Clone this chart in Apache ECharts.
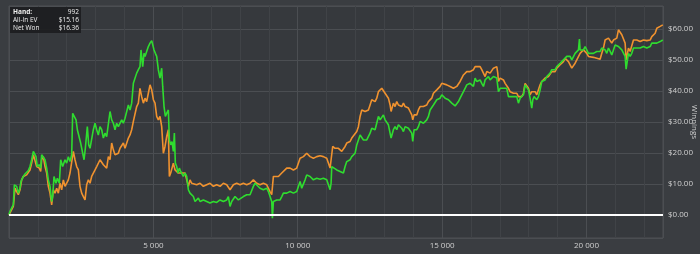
<!DOCTYPE html>
<html>
<head>
<meta charset="utf-8">
<script src="https://cdn.jsdelivr.net/npm/echarts@6/dist/echarts.min.js"></script>
<style>
html,body{margin:0;padding:0;background:#3a3d41;}
#chart{width:700px;height:254px;}
</style>
</head>
<body>
<div id="chart"></div>
<script>
// Tooltip snapshot shown in the reference
const tipLabels = ['Hand:', 'All-In EV', 'Net Won'];
const tipValues = ['992', '$15.16', '$16.36'];
const yAxisTitle = 'Winnings';

// X axis ticks (hands)
const xTicks = [5000, 10000, 15000, 20000];
// Y axis ticks (winnings, $)
const yTicks = [0, 10, 20, 30, 40, 50, 60];

// Net Won (green): [hand, $]
const netWon = [
[0,0],[34,1.1],[92,2.2],[150,3.2],[185,9.7],[265,9.2],[323,7.0],[381,8.6],[415,10.8],[496,12.4],[554,13.2],[612,12.9],[669,14.3],[727,15.6],[785,17.8],[843,20.5],[900,19.9],[935,18.8],[981,15.6],[1051,16.2],[1097,15.1],[1131,19.4],[1189,19.9],[1247,17.8],[1305,15.1],[1362,11.3],[1420,9.2],[1478,4.3],[1512,5.9],[1559,12.4],[1628,10.2],[1674,11.8],[1743,10.2],[1790,17.8],[1859,15.6],[1905,15.1],[1940,17.8],[1997,16.7],[2055,18.8],[2113,17.2],[2171,19.4],[2205,32.8],[2251,32.3],[2321,30.7],[2367,27.5],[2436,26.9],[2482,23.2],[2552,19.9],[2598,17.8],[2644,21.5],[2713,28.5],[2760,22.6],[2806,21.5],[2863,22.1],[2921,27.5],[2979,29.6],[3037,27.5],[3094,25.8],[3152,28.5],[3210,27.5],[3268,24.8],[3325,26.4],[3383,25.3],[3441,24.8],[3499,33.4],[3556,30.7],[3614,29.6],[3672,27.5],[3729,29.6],[3787,28.5],[3845,29.1],[3903,30.7],[3960,29.6],[4018,31.2],[4076,31.8],[4134,35.5],[4191,33.9],[4249,36.1],[4307,42.5],[4365,43.1],
[4422,45.8],[4480,46.9],[4537,47.9],[4572,53.3],[4630,47.9],[4676,52.2],[4711,51.2],[4768,52.8],[4826,54.4],[4884,55.5],[4942,56.3],[4976,56.0],[5022,53.3],[5069,52.2],[5115,51.2],[5172,46.9],[5230,44.2],[5288,47.4],[5323,41.5],[5369,35.0],[5415,31.8],[5461,32.8],[5519,33.9],[5554,24.2],[5600,22.6],[5646,23.7],[5692,20.5],[5727,26.4],[5761,16.7],[5808,15.6],[5854,13.5],[5900,15.1],[5946,14.0],[5992,13.5],[6039,12.4],[6096,13.5],[6154,12.4],[6212,8.1],[6269,7.0],[6327,7.5],[6385,5.9],[6443,4.3],[6500,4.8],[6558,5.4],[6616,4.3],[6731,4.8],[6847,4.3],[6962,3.8],[7078,4.3],[7193,4.0],[7309,4.8],[7424,4.3],[7540,4.8],[7597,5.9],[7655,2.7],[7713,4.3],[7771,4.8],[7828,5.9],[7886,6.5],[7944,4.8],[8002,5.4],[8117,5.9],[8232,6.5],[8348,6.5],[8406,5.9],[8463,9.2],[8521,10.2],[8579,9.7],[8694,8.6],
[8810,8.1],[8926,8.6],[8984,7.5],[9041,7.0],[9099,4.3],[9122,-1.1],[9157,4.3],[9215,4.3],[9272,4.8],[9388,4.8],[9446,5.9],[9503,7.0],[9619,7.0],[9734,7.5],[9850,7.0],[9965,7.5],[10023,8.1],[10081,10.8],[10138,8.6],[10196,9.2],[10254,11.3],[10311,12.9],[10427,12.4],[10542,11.3],[10658,11.8],[10774,11.5],[10889,11.8],[11004,11.3],[11062,11.3],[11120,8.1],[11155,10.2],[11178,15.6],[11235,15.1],[11351,14.5],[11466,14.0],[11582,13.5],[11640,15.6],[11697,17.2],[11755,16.7],[11813,17.8],[11871,18.8],[11928,19.4],[11986,19.9],[12044,22.6],[12101,22.1],[12159,25.8],[12217,25.3],[12275,24.2],[12332,23.7],[12390,24.2],[12448,24.2],[12505,26.4],[12563,28.0],[12621,28.5],[12679,27.5],[12736,28.0],[12794,31.8],[12852,30.7],[12910,31.2],[12967,32.3],[13025,30.7],[13083,30.2],[13140,29.1],[13198,26.4],[13233,24.8],[13256,25.3],
[13313,27.5],[13371,28.5],[13429,27.5],[13487,29.1],[13544,28.5],[13602,28.0],[13660,26.9],[13718,28.5],[13775,29.1],[13833,28.0],[13891,27.5],[13949,26.4],[13983,23.7],[14029,27.5],[14122,27.5],[14179,28.5],[14237,30.2],[14295,30.7],[14353,29.6],[14410,30.2],[14468,30.7],[14526,31.8],[14584,33.9],[14641,34.5],[14699,35.5],[14757,36.1],[14815,37.2],[14872,36.6],[14930,37.7],[14988,38.8],[15045,38.2],[15103,37.7],[15161,37.2],[15219,37.2],[15276,36.6],[15334,36.1],[15392,35.5],[15450,35.2],[15507,35.5],[15565,36.6],[15623,37.7],[15681,38.8],[15738,39.8],[15796,40.9],[15854,42.0],[15912,41.5],[15969,42.5],[16027,42.0],[16085,41.5],[16143,44.2],[16200,43.1],[16258,42.5],[16316,43.6],[16373,42.5],[16431,41.5],[16489,43.6],[16547,44.2],[16604,44.7],[16662,43.6],[16720,44.2],[16778,44.7],[16835,45.2],[16893,44.2],[16951,39.8],[17009,40.9],[17124,40.9],[17182,40.4],[17239,40.9],[17297,38.2],[17355,37.7],[17413,38.2],[17470,38.2],[17586,38.2],[17643,36.1],[17701,37.7],[17759,37.2],[17817,38.8],
[17874,42.0],[17932,41.5],[17990,40.4],[18047,37.7],[18105,34.5],[18140,37.2],[18186,38.2],[18221,38.8],[18278,37.2],[18336,38.2],[18394,40.4],[18452,43.1],[18509,42.5],[18567,43.6],[18625,44.7],[18682,45.2],[18740,45.8],[18798,46.9],[18856,47.4],[18913,46.9],[18971,47.9],[19029,47.4],[19087,49.0],[19144,49.5],[19202,50.1],[19260,50.6],[19318,51.2],[19375,50.6],[19433,51.2],[19491,50.1],[19549,49.5],[19606,52.2],[19664,52.8],[19722,53.3],[19756,56.8],[19779,53.3],[19837,53.9],[19895,53.3],[19953,54.4],[20010,54.4],[20068,52.2],[20126,52.8],[20241,52.2],[20357,52.8],[20472,52.8],[20530,53.9],[20588,54.4],[20645,53.3],[20703,52.2],[20761,53.9],[20819,52.8],[20876,51.7],[20934,53.3],[20992,54.9],[21050,55.5],[21107,54.4],[21165,54.9],[21223,53.3],[21281,52.8],[21338,51.2],[21373,47.1],[21419,50.1],[21454,52.2],[21511,51.2],[21569,52.2],[21627,53.9],[21685,54.4],[21742,53.9],[21800,54.4],[21858,53.9],[21973,54.4],[22089,53.9],[22204,54.4],[22262,55.5],[22320,55.3],[22435,55.5],[22551,56.0],[22643,56.5]
];

// All-In EV (orange): [hand, $]
const allInEV = [
[0,0],[150,2.7],[208,8.6],[265,7.5],[323,6.5],[381,8.1],[439,11.3],[496,12.4],[612,12.9],[727,14.5],[785,16.7],[843,19.4],[900,18.8],[958,15.6],[1051,15.1],[1097,14.0],[1131,17.8],[1189,18.8],[1247,15.6],[1305,13.5],[1362,9.2],[1420,7.0],[1478,3.2],[1536,8.1],[1593,7.0],[1651,8.6],[1709,7.0],[1767,10.2],[1824,8.1],[1882,11.3],[1940,9.2],[1997,10.2],[2055,11.3],[2113,13.5],[2171,14.0],[2228,20.5],[2286,17.8],[2344,15.6],[2402,14.5],[2459,9.2],[2517,7.0],[2575,5.9],[2633,4.8],[2690,9.7],[2748,11.3],[2806,10.2],[2863,12.4],[2921,11.8],[2979,14.5],[3037,15.6],[3094,15.1],[3152,17.8],[3210,17.8],[3268,16.2],[3325,16.7],[3383,15.1],[3441,18.8],[3499,17.8],[3556,23.2],[3614,21.0],[3672,19.4],[3729,19.9],[3787,19.9],[3845,21.5],[3903,22.1],[3960,23.2],[4018,21.5],[4076,22.1],[4134,24.8],[4191,25.8],[4249,27.5],[4307,30.2],[4365,30.7],
[4422,35.0],[4480,36.1],[4537,40.9],[4595,38.2],[4653,36.1],[4711,37.7],[4768,36.6],[4826,39.3],[4884,42.0],[4942,40.4],[5000,37.2],[5057,36.1],[5115,31.8],[5172,30.7],[5230,31.8],[5288,28.5],[5346,19.9],[5403,22.1],[5461,25.3],[5519,27.5],[5554,12.4],[5600,13.5],[5634,14.0],[5692,16.7],[5750,14.5],[5808,15.1],[5865,13.5],[5923,14.0],[5981,13.5],[6039,14.0],[6096,13.5],[6154,13.5],[6212,9.2],[6269,11.3],[6327,10.2],[6385,10.8],[6500,9.7],[6616,10.2],[6731,9.2],[6847,9.7],[6962,10.2],[7078,9.2],[7193,9.7],[7309,9.2],[7424,10.2],[7540,9.7],[7655,8.1],[7771,9.7],[7886,10.2],[8002,9.7],[8117,10.2],[8232,9.7],[8348,10.2],[8463,11.3],[8579,10.2],[8694,9.7],
[8810,10.2],[8926,9.7],[8984,9.2],[9041,7.5],[9099,6.5],[9157,12.4],[9215,12.9],[9330,12.4],[9446,13.5],[9503,14.0],[9619,15.1],[9734,15.1],[9850,14.5],[9965,15.1],[10023,15.6],[10081,18.3],[10138,17.8],[10196,18.8],[10254,19.4],[10311,19.9],[10427,18.8],[10542,18.3],[10658,18.8],[10774,19.1],[10889,18.8],[11004,18.3],[11062,17.8],[11120,15.1],[11155,17.8],[11212,22.1],[11293,21.5],[11409,21.5],[11466,21.0],[11524,20.5],[11582,19.9],[11640,22.1],[11697,23.2],[11813,23.7],[11871,24.8],[11928,25.3],[12044,26.9],[12101,28.5],[12159,31.8],[12217,33.9],[12275,34.5],[12332,33.4],[12390,32.8],[12448,33.9],[12505,35.5],[12563,37.2],[12621,37.2],[12679,36.6],[12736,37.7],[12794,39.8],[12852,39.8],[12910,40.9],[12967,40.4],[13025,39.3],[13083,38.8],[13140,37.7],[13198,35.5],[13233,33.4],
[13256,33.9],[13313,36.1],[13371,35.0],[13429,36.6],[13487,35.5],[13544,36.1],[13602,35.0],[13660,36.1],[13718,35.0],[13775,35.5],[13833,34.5],[13891,33.4],[13949,32.3],[13983,30.7],[14029,32.3],[14122,32.3],[14179,33.9],[14237,35.0],[14295,34.5],[14353,35.0],[14468,35.5],[14526,36.6],[14584,36.6],[14641,37.7],[14699,39.3],[14757,39.8],[14815,40.4],[14872,40.9],[14930,41.5],[14988,42.5],[15045,42.0],[15161,42.0],[15276,41.5],[15392,40.9],[15450,40.9],[15507,41.5],[15565,42.0],[15623,43.1],[15681,44.2],[15738,45.2],[15796,45.8],[15854,46.3],[15912,45.8],[15969,46.3],[16027,45.8],[16085,46.9],[16143,47.9],[16178,48.5],[16224,47.9],[16258,47.4],[16316,47.9],[16373,46.9],[16431,45.8],[16489,44.7],[16547,46.3],[16604,46.9],[16662,45.8],[16720,46.3],[16778,47.4],[16835,46.9],[16893,47.9],[16928,45.8],[16951,43.1],[17009,44.2],[17066,44.2],[17124,43.6],[17182,42.5],[17239,42.0],[17297,40.9],[17355,39.8],[17413,39.8],[17470,39.3],[17528,39.8],[17586,39.3],[17643,38.2],[17701,38.8],[17759,38.2],[17817,39.3],
[17874,42.5],[17932,42.0],[17990,40.9],[18047,38.8],[18105,39.8],[18163,39.3],[18221,39.8],[18278,38.8],[18336,40.4],[18394,42.0],[18452,43.1],[18509,43.1],[18567,44.2],[18625,43.6],[18682,44.7],[18740,45.2],[18798,46.3],[18856,46.9],[18913,46.3],[18971,47.4],[19029,47.9],[19087,48.5],[19144,49.0],[19202,49.5],[19260,50.6],[19318,50.1],[19375,49.5],[19433,48.5],[19491,47.4],[19549,46.9],[19606,49.0],[19664,50.1],[19722,50.6],[19779,52.2],[19837,52.8],[19895,53.3],[19953,52.8],[20010,52.2],[20068,51.2],[20126,50.6],[20241,50.9],[20357,50.6],[20472,50.3],[20530,52.2],[20588,53.9],[20645,56.5],[20703,56.0],[20761,57.1],[20819,56.5],[20876,55.5],[20934,56.5],[20992,56.0],[21050,57.1],[21107,59.8],[21165,59.2],[21223,58.2],[21281,57.6],[21338,55.5],[21373,50.1],[21419,52.2],[21454,53.9],[21511,52.8],[21569,53.3],[21627,56.5],[21685,57.1],[21742,56.5],[21800,56.8],[21858,56.0],[21973,56.5],[22089,56.3],[22204,56.5],[22262,57.6],[22320,58.2],[22378,58.7],[22435,60.3],[22493,60.3],[22551,60.9],[22643,61.4]
];

const FONT = '"Open Sans", "DejaVu Sans", sans-serif';
const chart = echarts.init(document.getElementById('chart'), null, {renderer: 'canvas'});

function fmtHands(v) {
  return String(v).replace(/\B(?=(\d{3})+(?!\d))/g, ' ');
}

const graphics = [{
  type: 'rect', left: 10, top: 7, z: 100,
  shape: {width: 71, height: 26},
  style: {fill: 'rgba(28,29,31,0.92)'}
}];
tipLabels.forEach((t, i) => {
  graphics.push({
    type: 'text', left: 13, top: 9 + i * 8, z: 101,
    style: {text: t, fill: '#f0f0f0', font: (i === 0 ? 'bold ' : '') + '6.5px ' + FONT}
  });
  graphics.push({
    type: 'text', right: 700 - 79, top: 9 + i * 8, z: 101,
    style: {text: tipValues[i], fill: '#f0f0f0', font: '6.5px ' + FONT, textAlign: 'right'}
  });
});
graphics.push({
  type: 'text', x: 694, y: 122, rotation: -Math.PI / 2, z: 101,
  style: {
    text: yAxisTitle, fill: '#d0d0d0', font: '8px ' + FONT,
    textAlign: 'center', textVerticalAlign: 'middle'
  }
});

chart.setOption({
  backgroundColor: '#3a3d41',
  animation: false,
  grid: {
    left: 9, right: 37, top: 6, bottom: 16,
    outerBoundsMode: 'none', containLabel: false,
    show: true, backgroundColor: '#36393d', borderColor: '#4e5155', borderWidth: 1
  },
  xAxis: {
    type: 'value', min: 0, max: 22650, interval: 5000,
    axisLine: {show: false}, axisTick: {show: false},
    axisLabel: {
      color: '#d0d0d0', fontFamily: FONT, fontSize: 8, margin: 4,
      showMinLabel: false, showMaxLabel: false,
      formatter: v => (xTicks.indexOf(v) >= 0 ? fmtHands(v) : '')
    },
    splitLine: {show: true, lineStyle: {color: '#4b4e52', width: 1}},
    minorTick: {show: false, splitNumber: 5},
    minorSplitLine: {show: true, lineStyle: {color: '#404347', width: 1}}
  },
  yAxis: {
    type: 'value', position: 'right', min: -7.5, max: 67.5, splitNumber: 7,
    axisLine: {show: false}, axisTick: {show: false},
    axisLabel: {
      color: '#d0d0d0', fontFamily: FONT, fontSize: 8, margin: 5,
      showMinLabel: false, showMaxLabel: false,
      formatter: v => (yTicks.indexOf(v) >= 0 ? '$' + v.toFixed(2) : '')
    },
    splitLine: {show: true, lineStyle: {color: '#4b4e52', width: 1}}
  },
  series: [
    {
      name: 'All-In EV', type: 'line', data: allInEV, showSymbol: false,
      lineStyle: {color: '#f0922f', width: 1.6}, itemStyle: {color: '#f0922f'},
      z: 3
    },
    {
      name: 'Net Won', type: 'line', data: netWon, showSymbol: false,
      lineStyle: {color: '#2fdc2f', width: 1.6}, itemStyle: {color: '#2fdc2f'},
      z: 4,
      markLine: {
        silent: true, symbol: 'none', label: {show: false},
        lineStyle: {color: '#ffffff', width: 2, type: 'solid'},
        data: [{yAxis: 0}]
      }
    }
  ],
  graphic: graphics
});
</script>
</body>
</html>
